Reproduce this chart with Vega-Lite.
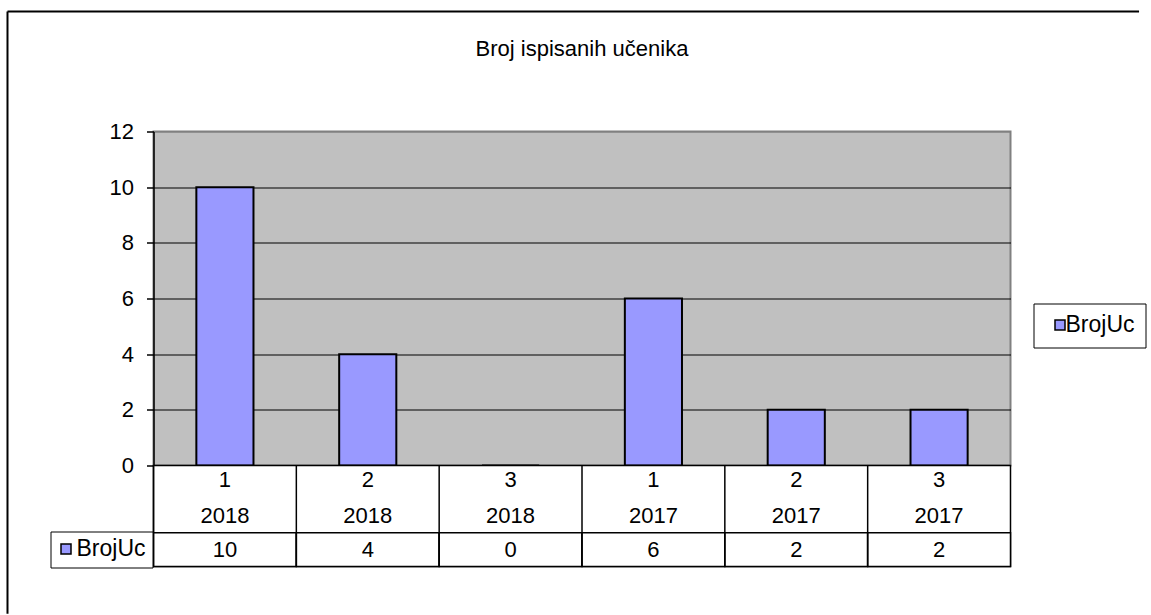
{
  "$schema": "https://vega.github.io/schema/vega-lite/v6.json",
  "padding": {"left": 5.5, "top": 9.5, "right": 0, "bottom": 0},
  "background": "white",
  "config": {"font": "Liberation Sans"},
  "datasets": {
    "t": [
      {"kat": "1/2018", "kvartal": "1", "godina": "2018", "BrojUc": 10, "serija": "BrojUc"},
      {"kat": "2/2018", "kvartal": "2", "godina": "2018", "BrojUc": 4, "serija": "BrojUc"},
      {"kat": "3/2018", "kvartal": "3", "godina": "2018", "BrojUc": 0, "serija": "BrojUc"},
      {"kat": "1/2017", "kvartal": "1", "godina": "2017", "BrojUc": 6, "serija": "BrojUc"},
      {"kat": "2/2017", "kvartal": "2", "godina": "2017", "BrojUc": 2, "serija": "BrojUc"},
      {"kat": "3/2017", "kvartal": "3", "godina": "2017", "BrojUc": 2, "serija": "BrojUc"}
    ],
    "okvir": [{"dio": "okvir grafikona"}]
  },
  "spacing": 0,
  "bounds": "flush",
  "resolve": {"scale": {"color": "independent"}, "legend": {"color": "independent"}},
  "vconcat": [
    {
      "width": 857,
      "height": 334,
      "title": {"text": "Broj ispisanih učenika", "fontSize": 22, "fontWeight": "normal", "color": "black", "anchor": "middle", "frame": "group", "offset": 60, "dx": 0, "font": "Liberation Sans"},
      "view": {"fill": "#C0C0C0", "stroke": "#808080", "strokeWidth": 2},
      "data": {"name": "t"},
      "mark": {"type": "bar", "width": {"band": 0.4}, "stroke": "black", "strokeWidth": 2},
      "encoding": {
        "x": {"field": "kat", "type": "nominal", "sort": null, "scale": {"paddingInner": 0, "paddingOuter": 0}, "axis": null},
        "y": {
          "field": "BrojUc", "type": "quantitative",
          "scale": {"domain": [0, 12], "nice": false},
          "axis": {
            "values": [0, 2, 4, 6, 8, 10, 12], "title": null, "grid": true,
            "gridColor": {"condition": {"test": "datum.value == 12", "value": "#808080"}, "value": "black"},
            "gridWidth": 1, "domainColor": "black", "domainWidth": 1.5,
            "tickColor": "black", "tickSize": 7, "tickWidth": 1.5,
            "labelFontSize": 22, "labelColor": "black", "labelPadding": 13, "labelFont": "Liberation Sans"
          }
        },
        "color": {
          "field": "serija", "type": "nominal", "scale": {"range": ["#9999FF"]},
          "legend": {
            "orient": "none", "legendX": 880, "legendY": 172, "title": null,
            "strokeColor": "black", "fillColor": "white", "padding": 10,
            "symbolType": "square", "symbolSize": 100, "symbolStrokeColor": "black", "symbolStrokeWidth": 1.5,
            "symbolOffset": 5, "labelOffset": -6, "labelFontSize": 23, "labelColor": "black", "labelFont": "Liberation Sans"
          }
        }
      }
    },
    {
      "width": 857,
      "height": 101,
      "view": {"fill": "white", "stroke": "black", "strokeWidth": 1.5},
      "resolve": {"scale": {"x": "independent", "y": "independent"}},
      "layer": [
        {
          "data": {"name": "t"},
          "layer": [
            {
              "mark": {"type": "rect", "fill": "white", "stroke": "black", "strokeWidth": 1.5},
              "encoding": {
                "x": {"field": "kat", "type": "nominal", "sort": null, "scale": {"paddingInner": 0, "paddingOuter": 0}, "axis": null},
                "y": {"datum": "val", "type": "nominal", "scale": {"domain": ["num", "year", "val"], "paddingInner": 0, "paddingOuter": 0}, "axis": null}
              }
            },
            {
              "mark": {"type": "rule", "color": "black", "strokeWidth": 1.5},
              "encoding": {
                "x": {"field": "kat", "type": "nominal", "sort": null, "bandPosition": 0, "axis": null}
              }
            },
            {
              "mark": {"type": "text", "fontSize": 22, "color": "black", "baseline": "middle", "align": "center", "dy": -2},
              "encoding": {
                "x": {"field": "kat", "type": "nominal", "sort": null, "axis": null},
                "y": {"datum": "num", "type": "nominal", "axis": null},
                "text": {"field": "kvartal"}
              }
            },
            {
              "mark": {"type": "text", "fontSize": 22, "color": "black", "baseline": "middle", "align": "center"},
              "encoding": {
                "x": {"field": "kat", "type": "nominal", "sort": null, "axis": null},
                "y": {"datum": "year", "type": "nominal", "axis": null},
                "text": {"field": "godina"}
              }
            },
            {
              "mark": {"type": "text", "fontSize": 22, "color": "black", "baseline": "middle", "align": "center"},
              "encoding": {
                "x": {"field": "kat", "type": "nominal", "sort": null, "axis": null},
                "y": {"datum": "val", "type": "nominal", "axis": null},
                "text": {"field": "BrojUc", "type": "quantitative"}
              }
            },
            {
              "mark": {"type": "square", "opacity": 0},
              "encoding": {
                "x": {"field": "kat", "type": "nominal", "sort": null, "axis": null},
                "color": {
                  "field": "serija", "type": "nominal", "scale": {"range": ["#9999FF"]},
                  "legend": {
                    "orient": "none", "legendX": -103, "legendY": 66, "title": null,
                    "strokeColor": "black", "fillColor": "white", "padding": 6,
                    "symbolType": "square", "symbolSize": 100, "symbolStrokeColor": "black", "symbolStrokeWidth": 1.5,
                    "symbolOpacity": 1, "symbolOffset": -2, "labelOffset": -1, "labelFontSize": 23, "labelColor": "black", "labelFont": "Liberation Sans"
                  }
                }
              }
            }
          ]
        },
        {
          "data": {"name": "okvir"},
          "mark": {"type": "rule", "color": "black", "strokeWidth": 2},
          "encoding": {
            "x": {"datum": -1.0222, "type": "quantitative", "scale": {"domain": [0, 6]}, "axis": null},
            "x2": {"datum": 6.90},
            "y": {"datum": 5.495, "type": "quantitative", "scale": {"domain": [0, 1], "nice": false}, "axis": null}
          }
        },
        {
          "data": {"name": "okvir"},
          "mark": {"type": "rule", "color": "black", "strokeWidth": 2},
          "encoding": {
            "x": {"datum": -1.0222, "type": "quantitative", "scale": {"domain": [0, 6]}, "axis": null},
            "y": {"datum": 5.495, "type": "quantitative", "scale": {"domain": [0, 1], "nice": false}, "axis": null},
            "y2": {"datum": -0.4683}
          }
        }
      ]
    }
  ]
}
